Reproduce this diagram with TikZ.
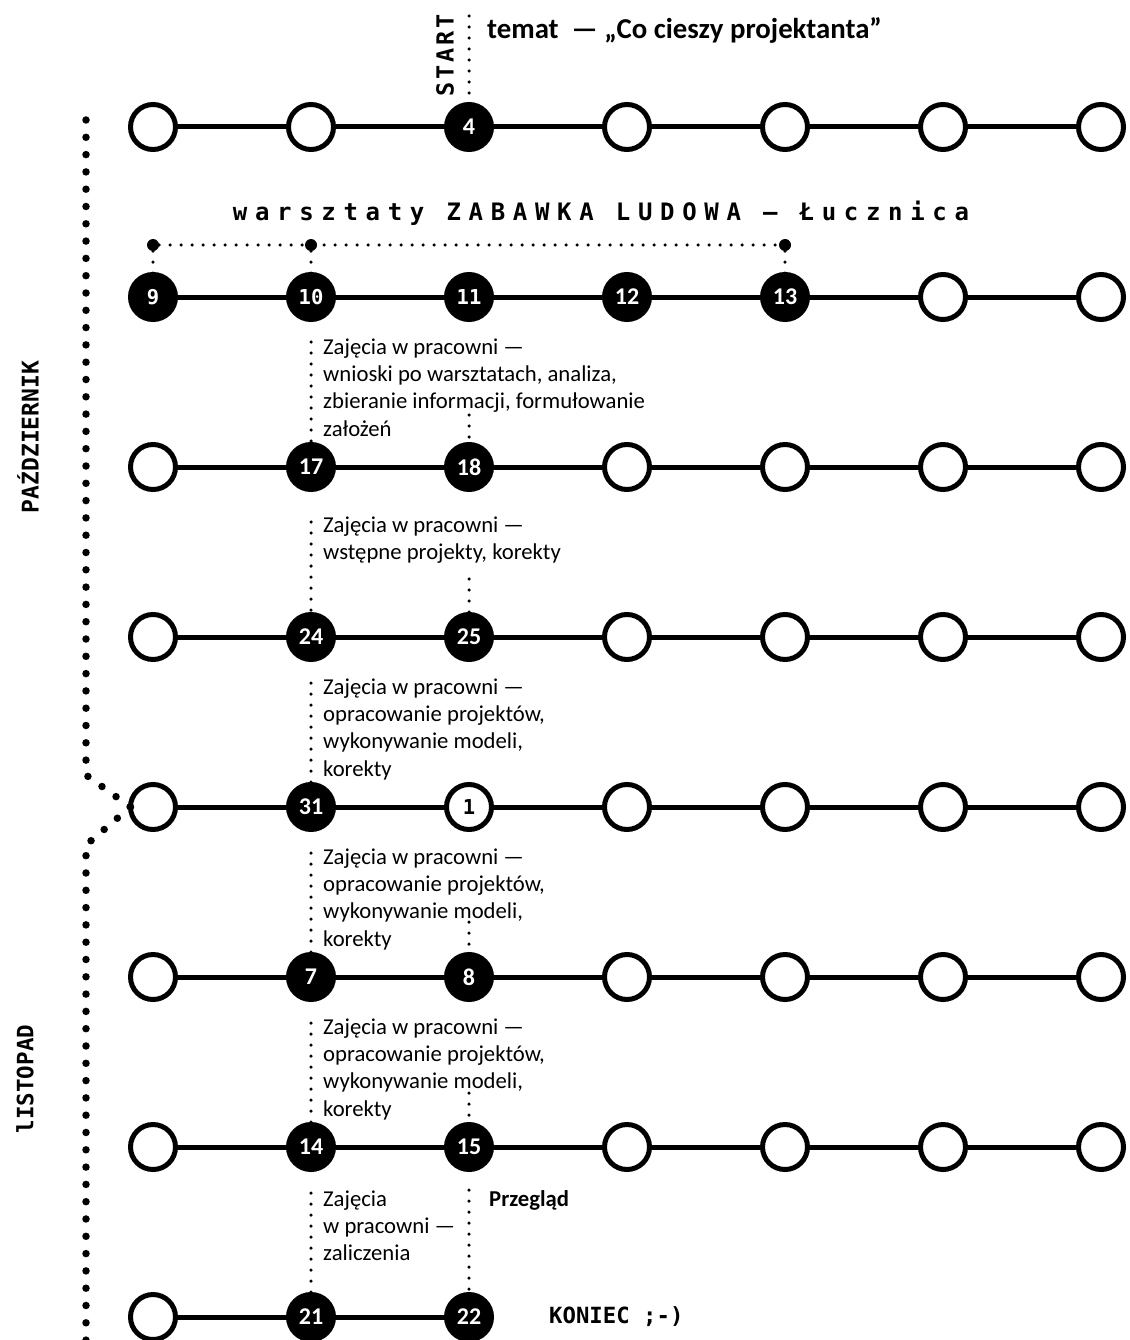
\documentclass[tikz,border=0pt]{standalone}
\usepackage{fontspec}
\setmainfont{Carlito}
\newfontfamily\monof{DejaVu Sans Mono}
\begin{document}
\begin{tikzpicture}[x=1pt,y=-1pt,
  day/.style={circle, draw=black, line width=5pt, minimum size=45pt, inner sep=0pt, outer sep=0pt},
  empty/.style={day, fill=white},
  full/.style={day, fill=black, text=white, font=\fontsize{24}{24}\selectfont\bfseries},
  fullmono/.style={day, fill=black, text=white, font=\fontsize{20.5}{20}\selectfont\monof\bfseries},
  hollowmono/.style={day, fill=white, text=black, font=\fontsize{20.5}{20}\selectfont\monof\bfseries},
  link/.style={line width=5pt},
  smalldots/.style={line width=3.5pt, line cap=round, dash pattern=on 0pt off 11pt},
  bigdots/.style={line width=7.5pt, line cap=round, dash pattern=on 0pt off 17.3pt},
  pin/.style={circle, fill=black, inner sep=0pt, minimum size=12pt},
  body/.style={font=\fontsize{22.7}{27.3}\selectfont, align=left, inner sep=0pt, anchor=north west},
  bodybold/.style={body, font=\fontsize{22.7}{27.3}\selectfont\bfseries},
  monolabel/.style={font=\fontsize{23}{23}\selectfont\monof\bfseries, inner sep=0pt},
]
\useasboundingbox (0,0) rectangle (1129,1340);

% ---- circles ----
\foreach \c/\s/\t in {1/empty/,2/empty/,3/full/4,4/empty/,5/empty/,6/empty/,7/empty/}
  \node[\s] (r1c\c) at ({153+158*(\c-1)},127) {\t};
\foreach \c/\s/\t in {1/fullmono/9,2/fullmono/10,3/fullmono/11,4/full/12,5/full/13,6/empty/,7/empty/}
  \node[\s] (r2c\c) at ({153+158*(\c-1)},297) {\t};
\foreach \c/\s/\t in {1/empty/,2/full/17,3/full/18,4/empty/,5/empty/,6/empty/,7/empty/}
  \node[\s] (r3c\c) at ({153+158*(\c-1)},467) {\t};
\foreach \c/\s/\t in {1/empty/,2/full/24,3/full/25,4/empty/,5/empty/,6/empty/,7/empty/}
  \node[\s] (r4c\c) at ({153+158*(\c-1)},637) {\t};
\foreach \c/\s/\t in {1/empty/,2/full/31,3/hollowmono/1,4/empty/,5/empty/,6/empty/,7/empty/}
  \node[\s] (r5c\c) at ({153+158*(\c-1)},807) {\t};
\foreach \c/\s/\t in {1/empty/,2/full/7,3/full/8,4/empty/,5/empty/,6/empty/,7/empty/}
  \node[\s] (r6c\c) at ({153+158*(\c-1)},977) {\t};
\foreach \c/\s/\t in {1/empty/,2/full/14,3/full/15,4/empty/,5/empty/,6/empty/,7/empty/}
  \node[\s] (r7c\c) at ({153+158*(\c-1)},1147) {\t};
\foreach \c/\s/\t in {1/empty/,2/full/21,3/full/22}
  \node[\s] (r8c\c) at ({153+158*(\c-1)},1317) {\t};

% ---- row links ----
\foreach \r in {1,...,7}
  \foreach \a/\b in {1/2,2/3,3/4,4/5,5/6,6/7}
    \draw[link] (r\r c\a) -- (r\r c\b);
\draw[link] (r8c1) -- (r8c2);
\draw[link] (r8c2) -- (r8c3);

% ---- month markers on the left ----
\coordinate (L1) at (86,120);
\coordinate (L2) at (86,775);
\coordinate (L3) at (86,845);
\coordinate (L4) at (86,1345);
\draw[bigdots] (L1) -- (L2) -- (r5c1.west);
\draw[bigdots] (r5c1.west) -- (L3) -- (L4);
\node[monolabel, rotate=90] (oct) at (28,437) {PAŹDZIERNIK};
\node[monolabel, font=\fontsize{22.5}{23}\selectfont\monof\bfseries, rotate=90] (nov) at (25,1079) {lISTOPAD};

% ---- start ----
\coordinate (s0) at (469,16);
\draw[smalldots] (s0) -- (r1c3.north);
\node[inner sep=0pt, rotate=90, font=\fontsize{23.5}{23}\selectfont\monof\bfseries\addfontfeature{LetterSpace=12}] (start) at (445,55) {START};
\node[anchor=base west, inner sep=0pt, font=\fontsize{28.8}{28}\selectfont\bfseries] (theme) at (487,39) {temat\ \ — „Co cieszy projektanta”};

% ---- workshop bracket ----
\node[monolabel, font=\fontsize{24}{24}\selectfont\monof\bfseries\addfontfeature{LetterSpace=32}] (ws) at (601,213) {warsztaty ZABAWKA LUDOWA — Łucznica};
\node[pin] (b1) at (153,245) {};
\node[pin] (b2) at (311,245) {};
\node[pin] (b3) at (785,245) {};
\draw[smalldots] (b1) -- (b3);
\draw[smalldots] (b1) -- (r2c1.north);
\draw[smalldots] (b2) -- (r2c2.north);
\draw[smalldots] (b3) -- (r2c5.north);

% ---- session notes ----
\coordinate (a1) at (311,342); \draw[smalldots] (a1) -- (r3c2.north);
\coordinate (a2) at (469,415); \draw[smalldots] (a2) -- (r3c3.north);
\node[body] (na) at (323,334) {\rule{0pt}{20pt}Zajęcia w pracowni —\\wnioski po warsztatach, analiza,\\zbieranie informacji, formułowanie\\założeń};

\coordinate (bb1) at (311,522); \draw[smalldots] (bb1) -- (r4c2.north);
\coordinate (bb2) at (469,579); \draw[smalldots] (bb2) -- (r4c3.north);
\node[body] (nb) at (323,512) {\rule{0pt}{20pt}Zajęcia w pracowni —\\wstępne projekty, korekty};

\coordinate (c1) at (311,683); \draw[smalldots] (c1) -- (r5c2.north);
\node[body] (nc) at (323,674) {\rule{0pt}{20pt}Zajęcia w pracowni —\\opracowanie projektów,\\wykonywanie modeli,\\korekty};

\coordinate (d1) at (311,853); \draw[smalldots] (d1) -- (r6c2.north);
\coordinate (d2) at (469,922); \draw[smalldots] (d2) -- (r6c3.north);
\node[body] (nd) at (323,844) {\rule{0pt}{20pt}Zajęcia w pracowni —\\opracowanie projektów,\\wykonywanie modeli,\\korekty};

\coordinate (e1) at (311,1023); \draw[smalldots] (e1) -- (r7c2.north);
\coordinate (e2) at (469,1093); \draw[smalldots] (e2) -- (r7c3.north);
\node[body] (ne) at (323,1014) {\rule{0pt}{20pt}Zajęcia w pracowni —\\opracowanie projektów,\\wykonywanie modeli,\\korekty};

\coordinate (f1) at (311,1193); \draw[smalldots] (f1) -- (r8c2.north);
\coordinate (f2) at (469,1190); \draw[smalldots] (f2) -- (r8c3.north);
\node[body] (nf) at (323,1186) {\rule{0pt}{20pt}Zajęcia\\w pracowni —\\zaliczenia};
\node[bodybold] (review) at (489,1186) {\rule{0pt}{20pt}Przegląd};

% ---- end ----
\node[anchor=west, inner sep=0pt, font=\fontsize{22.3}{22}\selectfont\monof\bfseries] (fin) at (549,1317) {KONIEC ;-)};
\end{tikzpicture}
\end{document}
